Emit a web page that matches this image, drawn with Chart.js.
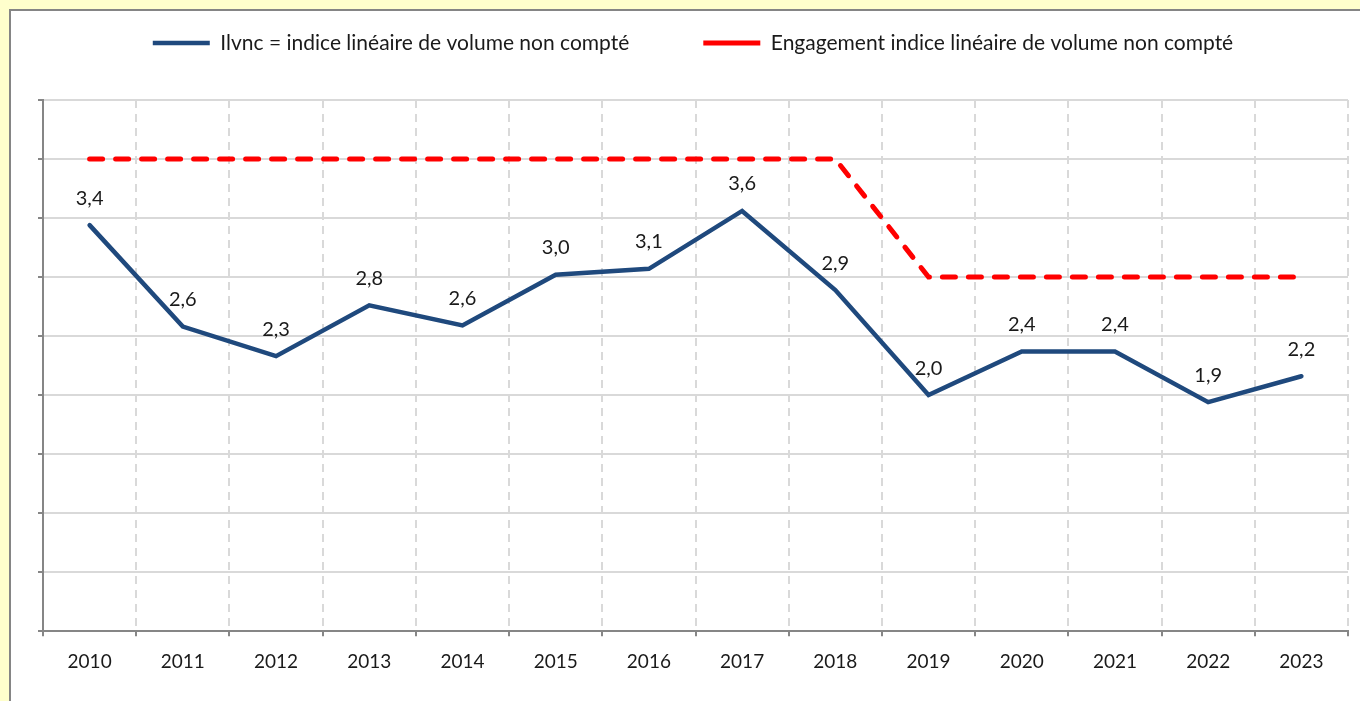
<!DOCTYPE html>
<html>
<head>
<meta charset="utf-8">
<script src="https://cdn.jsdelivr.net/npm/chart.js@4"></script>
<style>
  html, body { margin: 0; padding: 0; background: #ffffcc; overflow: hidden; }
  #chart { display: block; }
</style>
</head>
<body>
<canvas id="chart" width="1360" height="701"></canvas>
<script>
// values
const years = ['2010', '2011', '2012', '2013', '2014', '2015', '2016', '2017', '2018', '2019', '2020', '2021', '2022', '2023'];
const ilvnc = [3.44, 2.58, 2.33, 2.76, 2.59, 3.02, 3.07, 3.56, 2.89, 2.0, 2.37, 2.37, 1.94, 2.16];
const engagement = [4, 4, 4, 4, 4, 4, 4, 4, 4, 3, 3, 3, 3, 3];
const seriesNames = ['Ilvnc = indice linéaire de volume non compté', 'Engagement indice linéaire de volume non compté'];

const FONT = 'Lato';
const TEXT = '#1a1a1a';

// yellow frame behind the white panel
const frame = {
    id: 'frame',
    beforeDraw(chart) {
        const ctx = chart.ctx;
        const w = chart.width, h = chart.height;
        ctx.save();
        ctx.fillStyle = '#ffffcc';
        ctx.fillRect(0, 0, w, h);
        ctx.fillStyle = '#ffffff';
        ctx.fillRect(11, 11, w, h);
        ctx.fillStyle = '#858585';
        ctx.fillRect(9, 9, w, 2);
        ctx.fillRect(9, 9, 2, h);
        ctx.restore();
    }
};

// value labels above the blue line, french decimal comma
const valueLabels = {
    id: 'valueLabels',
    afterDatasetsDraw(chart) {
        const ctx = chart.ctx;
        const meta = chart.getDatasetMeta(0);
        ctx.save();
        ctx.font = '20px ' + FONT;
        ctx.fillStyle = TEXT;
        ctx.textAlign = 'center';
        ctx.textBaseline = 'middle';
        meta.data.forEach((pt, i) => {
            ctx.fillText(ilvnc[i].toFixed(1).replace('.', ','), pt.x, pt.y - 27);
        });
        ctx.restore();
    }
};

const chart = new Chart(document.getElementById('chart').getContext('2d'), {
    type: 'line',
    data: {
        labels: years,
        datasets: [
            {
                label: seriesNames[0],
                data: ilvnc,
                borderColor: '#1f497d',
                backgroundColor: '#1f497d',
                borderWidth: 4.5,
                pointRadius: 0,
                tension: 0,
                borderCapStyle: 'round'
            },
            {
                label: seriesNames[1],
                data: engagement,
                borderColor: '#ff0000',
                backgroundColor: '#ff0000',
                borderWidth: 5,
                borderDash: [13, 13],
                borderCapStyle: 'round',
                pointRadius: 0,
                tension: 0
            }
        ]
    },
    options: {
        responsive: false,
        animation: false,
        devicePixelRatio: 1,
        layout: {
            padding: { top: -41.5, left: 38, right: 12, bottom: 14 }
        },
        plugins: {
            legend: {
                position: 'top',
                labels: {
                    usePointStyle: true,
                    pointStyle: 'line',
                    pointStyleWidth: 57,
                    padding: 74,
                    color: TEXT,
                    font: { family: FONT, size: 21 }
                }
            },
            title: {
                display: true,
                text: '',
                padding: 0,
                weight: 500,
                font: { size: 36.5, lineHeight: 1 }
            },
            tooltip: { enabled: false }
        },
        scales: {
            x: {
                offset: true,
                grid: {
                    offset: true,
                    color: '#d9d9d9',
                    lineWidth: 2,
                    tickColor: '#868686',
                    tickLength: 5
                },
                border: { color: '#868686', width: 2, dash: [8, 6] },
                ticks: {
                    color: TEXT,
                    padding: 14,
                    font: { family: FONT, size: 19 }
                }
            },
            y: {
                min: 0,
                max: 4.5,
                ticks: { stepSize: 0.5, display: false },
                grid: {
                    color: '#d9d9d9',
                    lineWidth: 2,
                    tickColor: '#868686',
                    tickLength: 5
                },
                border: { color: '#868686', width: 2 }
            }
        }
    },
    plugins: [frame, valueLabels]
});
</script>
</body>
</html>
